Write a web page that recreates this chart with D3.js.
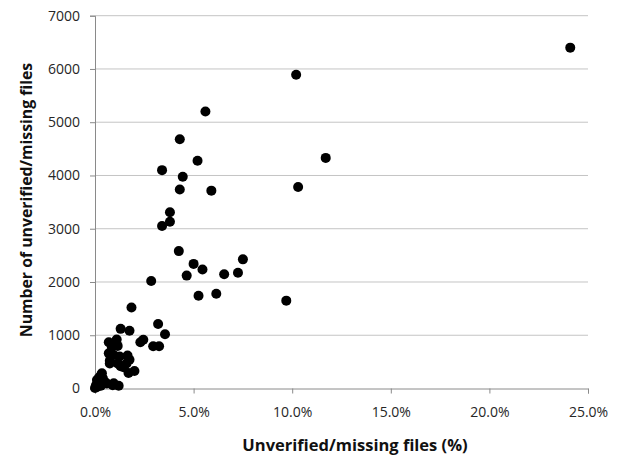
<!DOCTYPE html>
<html>
<head>
<meta charset="utf-8">
<script src="https://cdn.jsdelivr.net/npm/d3@7"></script>
<style>
  html, body { margin: 0; padding: 0; background: #fff; }
  svg { display: block; font-family: "Open Sans", "Noto Sans", sans-serif; }
</style>
</head>
<body>
<svg id="chart" width="621" height="462"></svg>
<script>
// Unverified/missing files (%) vs number of files
const pctValues = [
    24.1, 10.2, 11.7, 10.3, 9.7, 5.6, 4.3, 5.2, 3.4, 4.45, 4.3, 5.9, 3.8, 3.8, 3.4,
    4.25, 5.0, 5.45, 7.5, 4.65, 6.55, 7.25, 2.85, 5.25, 6.15, 3.2, 3.55, 1.85, 1.3, 1.75,
    2.45, 2.3, 2.95, 3.25,
    0.7, 1.1, 0.85, 1.15, 0.7, 0.95, 0.75, 1.25, 1.65, 1.15, 1.6, 1.75, 1.3, 1.45, 1.7, 2.0, 0.75,
    0.35, 0.3, 0.2, 0.4, 0.1, 0.25, 0.5, 0.15, 0.6, 0.05, 0.1, 0.0, 0.3, 0.9, 1.2, 0.95
];
const countValues = [
    6400, 5890, 4330, 3785, 1650, 5200, 4680, 4275, 4100, 3975, 3735, 3715, 3310, 3130, 3050,
    2580, 2340, 2235, 2425, 2120, 2145, 2175, 2020, 1740, 1780, 1210, 1020, 1520, 1120, 1085,
    915, 870, 795, 795,
    870, 920, 785, 800, 660, 630, 520, 600, 620, 470, 470, 540, 420, 400, 290, 330, 470,
    285, 250, 200, 190, 160, 130, 120, 90, 95, 60, 30, 10, 50, 60, 50, 100
];
const xTicks = [0, 5, 10, 15, 20, 25];
const yTicks = [0, 1000, 2000, 3000, 4000, 5000, 6000, 7000];
const xTitle = 'Unverified/missing files (%)';
const yTitle = 'Number of unverified/missing files';

const points = pctValues.map((p, i) => ({ pct: p, count: countValues[i] }));

const svg = d3.select('#chart');
const plotLeft = 95, plotRight = 588, plotTop = 15.7, plotBottom = 388.5;

const x = d3.scaleLinear().domain([0, 25]).range([plotLeft, plotRight]);
const y = d3.scaleLinear().domain([0, 7000]).range([plotBottom, plotTop]);

// Horizontal gridlines
svg.append('g')
    .selectAll('line')
    .data(yTicks.filter(d => d > 0))
    .join('line')
    .attr('x1', plotLeft)
    .attr('x2', plotRight)
    .attr('y1', d => y(d))
    .attr('y2', d => y(d))
    .attr('stroke', '#c4c4c4')
    .attr('stroke-width', 1);

// Y axis
const yAxis = svg.append('g')
    .attr('transform', `translate(${plotLeft},0)`)
    .call(d3.axisLeft(y).tickValues(yTicks).tickSize(5).tickPadding(10).tickFormat(d3.format('d')));

// X axis
const xAxis = svg.append('g')
    .attr('transform', `translate(0,${plotBottom})`)
    .call(d3.axisBottom(x).tickValues(xTicks).tickSize(5).tickPadding(14).tickFormat(d => d.toFixed(1) + '%'));

[yAxis, xAxis].forEach(g => {
    g.select('.domain').attr('stroke', '#8a8a8a');
    g.selectAll('.tick line').attr('stroke', '#8a8a8a');
    g.selectAll('.tick text')
        .attr('font-family', '"Open Sans", "Noto Sans", sans-serif')
        .attr('font-size', '14px')
        .attr('fill', '#262626');
});

// Points
svg.append('g')
    .selectAll('circle')
    .data(points)
    .join('circle')
    .attr('cx', d => x(d.pct))
    .attr('cy', d => y(d.count))
    .attr('r', 5)
    .attr('fill', '#000');

// Axis titles
svg.append('text')
    .attr('x', 355)
    .attr('y', 451)
    .attr('text-anchor', 'middle')
    .attr('font-size', '16.5px')
    .attr('font-weight', 'bold')
    .attr('fill', '#111')
    .text(xTitle);

svg.append('text')
    .attr('transform', 'translate(31.5,200) rotate(-90)')
    .attr('text-anchor', 'middle')
    .attr('font-size', '15.8px')
    .attr('font-weight', 'bold')
    .attr('fill', '#111')
    .text(yTitle);
</script>
</body>
</html>
